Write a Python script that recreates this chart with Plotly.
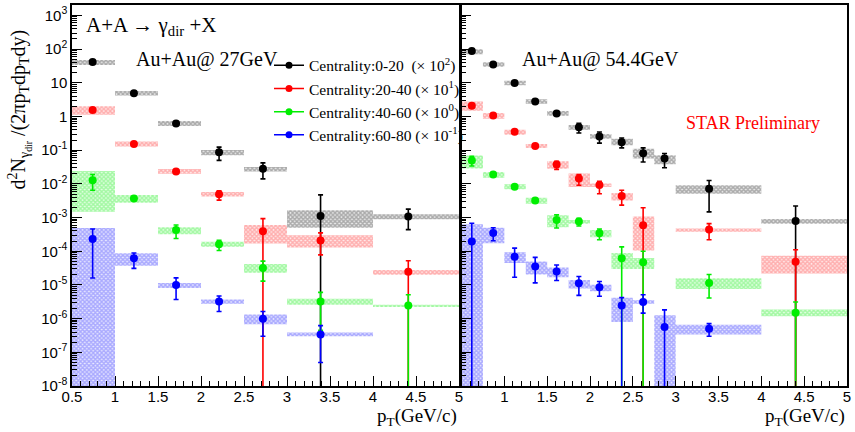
import plotly.graph_objects as go

# ---------------- data ----------------
FLOOR = 1e-10   # used for error bars / boxes that run off the bottom of the axis (None below)

# Au+Au 27 GeV  (left panel)
pt27 = [0.74, 1.22, 1.71, 2.21, 2.72, 3.39, 4.41]
lo27 = [0.5, 1.0, 1.5, 2.0, 2.5, 3.0, 4.0]
hi27 = [1.0, 1.5, 2.0, 2.5, 3.0, 4.0, 5.0]

c0020_27_val = [41.5, 4.9, 0.625, 0.087, 0.0279, 1.12e-3, 1.07e-3]
c0020_27_eup = [44.7, 5.25, 0.676, 0.123, 0.042, 4.7e-3, 1.78e-3]
c0020_27_edn = [38.0, 4.57, 0.575, 0.050, 0.0141, None, 4.4e-4]
c0020_27_sup = [47.9, 5.75, 0.74, 0.102, 0.0316, 1.66e-3, 1.26e-3]
c0020_27_sdn = [33.9, 4.17, 0.525, 0.0708, 0.0234, 5.0e-4, 8.9e-4]

c2040_27_val = [1.55, 0.153, 0.0234, 4.9e-3, 3.9e-4, 2.1e-4, 2.48e-5]
c2040_27_eup = [1.66, 0.166, 0.0251, 6.2e-3, 9.3e-4, 3.5e-4, 5.2e-5]
c2040_27_edn = [1.45, 0.141, 0.0219, 3.3e-3, None, 7.8e-5, None]
c2040_27_sup = [2.0, 0.18, 0.0275, 5.75e-3, 6.0e-4, 3.0e-4, 2.8e-5]
c2040_27_sdn = [1.12, 0.129, 0.020, 4.2e-3, 1.7e-4, 1.29e-4, 2.0e-5]

c4060_27_val = [0.0129, 3.7e-3, 4.3e-4, 1.62e-4, 3.2e-5, 3.2e-6, 2.45e-6]
c4060_27_eup = [0.019, 4.0e-3, 6.0e-4, 2.1e-4, 5.1e-5, 6.0e-6, 5.1e-6]
c4060_27_edn = [6.5e-3, 3.45e-3, 2.4e-4, 1.05e-4, 1.3e-5, 4.5e-7, None]
c4060_27_sup = [0.024, 4.7e-3, 5.2e-4, 1.9e-4, 4.2e-5, 3.9e-6, 2.6e-6]
c4060_27_sdn = [1.48e-3, 2.75e-3, 3.2e-4, 1.35e-4, 2.3e-5, 2.6e-6, 2.2e-6]

c6080_27_val = [2.3e-4, 6.2e-5, 1.0e-5, 3.2e-6, 1.0e-6, 3.4e-7, None]
c6080_27_eup = [4.6e-4, 8.9e-5, 1.62e-5, 4.7e-6, 1.62e-6, 6.2e-7, None]
c6080_27_edn = [1.6e-5, 3.1e-5, 3.7e-6, 1.62e-6, 3.0e-7, 5.0e-8, None]
c6080_27_sup = [4.9e-4, 8.7e-5, 1.15e-5, 3.7e-6, 1.32e-6, 3.9e-7, None]
c6080_27_sdn = [None, 3.7e-5, 8.1e-6, 2.75e-6, 6.8e-7, 3.0e-7, None]

# Au+Au 54.4 GeV  (right panel)
pt54 = [0.62, 0.87, 1.12, 1.36, 1.61, 1.87, 2.11, 2.37, 2.62, 2.87, 3.39, 4.40]
lo54 = [0.5, 0.75, 1.0, 1.25, 1.5, 1.75, 2.0, 2.25, 2.5, 2.75, 3.0, 4.0]
hi54 = [0.75, 1.0, 1.25, 1.5, 1.75, 2.0, 2.25, 2.5, 2.75, 3.0, 4.0, 5.0]

c0020_54_val = [87.7, 35.2, 9.93, 2.79, 1.23, 0.479, 0.257, 0.172, 0.0813, 0.0562, 7.2e-3, 7.9e-4]
c0020_54_eup = [93.0, 38.0, 10.7, 3.02, 1.32, 0.631, 0.347, 0.229, 0.117, 0.0794, 0.0126, 2.2e-3]
c0020_54_edn = [81.0, 32.4, 9.1, 2.57, 1.15, 0.324, 0.162, 0.117, 0.0447, 0.0302, 1.48e-3, None]
c0020_54_sup = [100.0, 40.7, 11.5, 3.24, 1.45, 0.562, 0.302, 0.219, 0.110, 0.0708, 9.1e-3, 9.1e-4]
c0020_54_sdn = [70.8, 30.2, 8.5, 2.4, 1.05, 0.407, 0.219, 0.141, 0.0562, 0.038, 5.1e-3, 6.6e-4]

c2040_54_val = [2.09, 1.08, 0.355, 0.133, 0.0376, 0.0145, 9.2e-3, 4.4e-3, 5.9e-4, None, 4.4e-4, 4.9e-5]
c2040_54_eup = [2.24, 1.15, 0.38, 0.141, 0.0468, 0.019, 0.012, 6.5e-3, 1.95e-3, None, 6.6e-4, 1.11e-4]
c2040_54_edn = [1.95, 1.0, 0.331, 0.126, 0.0269, 9.1e-3, 5.1e-3, 2.34e-3, None, None, 2.2e-4, None]
c2040_54_sup = [2.79, 1.26, 0.407, 0.153, 0.0468, 0.0204, 0.0102, 5.4e-3, 1.07e-3, None, 4.7e-4, 7.4e-5]
c2040_54_sdn = [1.48, 0.861, 0.288, 0.117, 0.0282, 8.1e-3, 8.1e-3, 3.2e-3, 1.05e-4, None, 3.8e-4, 2.2e-5]

c4060_54_val = [0.0494, 0.019, 8.2e-3, 3.2e-3, 8.5e-4, 7.6e-4, 3.4e-4, 6.2e-5, 4.7e-5, None, 1.15e-5, 1.5e-6]
c4060_54_eup = [0.066, 0.0204, 8.7e-3, 3.5e-3, 1.2e-3, 9.5e-4, 4.6e-4, 1.35e-4, 1.0e-4, None, 2.04e-5, 3.1e-6]
c4060_54_edn = [0.0339, 0.0178, 7.8e-3, 3.0e-3, 4.9e-4, 5.6e-4, 2.2e-4, None, None, None, 4.1e-6, None]
c4060_54_sup = [0.069, 0.0224, 9.8e-3, 3.9e-3, 1.17e-3, 8.5e-4, 4.3e-4, 8.9e-5, 6.3e-5, None, 1.58e-5, 1.86e-6]
c4060_54_sdn = [0.0288, 0.0151, 6.9e-3, 2.57e-3, 5.2e-4, 6.6e-4, 2.6e-4, 2.95e-5, 2.95e-5, None, 7.6e-6, 1.17e-6]

c6080_54_val = [1.95e-4, 3.5e-4, 6.9e-5, 3.5e-5, 2.5e-5, 1.12e-5, 8.5e-6, 2.45e-6, 3.1e-6, 5.6e-7, 5.0e-7, None]
c6080_54_eup = [6.8e-4, 5.0e-4, 1.24e-4, 6.6e-5, 3.9e-5, 1.78e-5, 1.26e-5, 4.2e-6, 5.1e-6, 1.82e-6, 7.1e-7, None]
c6080_54_edn = [None, 2.04e-4, 1.7e-5, 1.15e-5, 1.35e-5, 4.9e-6, 4.6e-6, None, 1.46e-6, None, 3.0e-7, None]
c6080_54_sup = [6.3e-4, 5.0e-4, 9.3e-5, 5.0e-5, 3.3e-5, 1.41e-5, 1.02e-5, 4.2e-6, 3.5e-6, 1.26e-6, 6.6e-7, None]
c6080_54_sdn = [None, 1.74e-4, 4.5e-5, 2.04e-5, 1.7e-5, 7.9e-6, 6.5e-6, 7.9e-7, 2.75e-6, None, 3.4e-7, None]

legend_names = ["Centrality:0-20\u00a0\u00a0(\u00d7 10<sup>2</sup>)",
                "Centrality:20-40 (\u00d7 10<sup>1</sup>)",
                "Centrality:40-60 (\u00d7 10<sup>0</sup>)",
                "Centrality:60-80 (\u00d7 10<sup>-1</sup>)"]

ytick_vals = [1e-8, 1e-7, 1e-6, 1e-5, 1e-4, 1e-3, 1e-2, 1e-1, 1, 10, 100, 1000]
ytick_text = ["10<sup>-8</sup>", "10<sup>-7</sup>", "10<sup>-6</sup>", "10<sup>-5</sup>",
              "10<sup>-4</sup>", "10<sup>-3</sup>", "10<sup>-2</sup>", "10<sup>-1</sup>",
              "1", "10", "10<sup>2</sup>", "10<sup>3</sup>"]
xtick_vals = [0.5, 1, 1.5, 2, 2.5, 3, 3.5, 4, 4.5, 5]
xtick_text_left = ["0.5", "1", "1.5", "2", "2.5", "3", "3.5", "4", "4.5", "5"]
xtick_text_right = ["", "1", "1.5", "2", "2.5", "3", "3.5", "4", "4.5", "5"]

# ---------------- styles ----------------
SERIF = "Liberation Serif, Times New Roman, serif"
SANS = "Liberation Sans, Arial, sans-serif"
COLORS = ["#000000", "#ff0000", "#00ee00", "#0000ff"]
BOX_FG = ["rgba(100,100,100,0.95)", "rgba(255,110,110,0.95)", "rgba(90,240,90,0.95)", "rgba(100,100,255,0.95)"]
BOX_BG = ["rgba(215,215,215,0.55)", "rgba(255,215,215,0.55)", "rgba(205,255,205,0.55)", "rgba(210,210,255,0.55)"]

panels = [
    dict(xa="x", ya="y", pt=pt27, lo=lo27, hi=hi27, series=[
        (c0020_27_val, c0020_27_eup, c0020_27_edn, c0020_27_sup, c0020_27_sdn),
        (c2040_27_val, c2040_27_eup, c2040_27_edn, c2040_27_sup, c2040_27_sdn),
        (c4060_27_val, c4060_27_eup, c4060_27_edn, c4060_27_sup, c4060_27_sdn),
        (c6080_27_val, c6080_27_eup, c6080_27_edn, c6080_27_sup, c6080_27_sdn)]),
    dict(xa="x2", ya="y2", pt=pt54, lo=lo54, hi=hi54, series=[
        (c0020_54_val, c0020_54_eup, c0020_54_edn, c0020_54_sup, c0020_54_sdn),
        (c2040_54_val, c2040_54_eup, c2040_54_edn, c2040_54_sup, c2040_54_sdn),
        (c4060_54_val, c4060_54_eup, c4060_54_edn, c4060_54_sup, c4060_54_sdn),
        (c6080_54_val, c6080_54_eup, c6080_54_edn, c6080_54_sup, c6080_54_sdn)]),
]

fig = go.Figure()

for p in panels:
    # systematic boxes first
    for i, (val, eup, edn, sup, sdn) in enumerate(p["series"]):
        bx, by = [], []
        for a, b, v, s1, s0 in zip(p["lo"], p["hi"], val, sup, sdn):
            if v is None:
                continue
            s0 = FLOOR if s0 is None else s0
            bx += [a, b, b, a, a, None]
            by += [s0, s0, s1, s1, s0, None]
        fig.add_trace(go.Scatter(
            x=bx, y=by, xaxis=p["xa"], yaxis=p["ya"], mode="none", fill="toself",
            fillcolor=BOX_BG[i],
            fillpattern=dict(shape="x", size=3, solidity=0.7, fgcolor=BOX_FG[i], bgcolor=BOX_BG[i]),
            showlegend=False, hoverinfo="skip"))
    # points with statistical error bars
    for i, (val, eup, edn, sup, sdn) in enumerate(p["series"]):
        xs, ys, ep, em = [], [], [], []
        for x, v, u, d in zip(p["pt"], val, eup, edn):
            if v is None:
                continue
            d = FLOOR if d is None else d
            xs.append(x); ys.append(v); ep.append(u - v); em.append(v - d)
        fig.add_trace(go.Scatter(
            x=xs, y=ys, xaxis=p["xa"], yaxis=p["ya"], mode="markers",
            marker=dict(color=COLORS[i], size=8),
            error_y=dict(type="data", array=ep, arrayminus=em, color=COLORS[i],
                         thickness=1.6, width=2.5),
            showlegend=False, hoverinfo="skip"))

# legend entries
for i, name in enumerate(legend_names):
    fig.add_trace(go.Scatter(x=[None], y=[None], mode="lines+markers", name=name,
                             line=dict(color=COLORS[i], width=1.5),
                             marker=dict(color=COLORS[i], size=7)))

axis_common = dict(showline=True, linecolor="black", linewidth=1.5, mirror=True,
                   ticks="inside", tickcolor="black", ticklen=10, tickwidth=1,
                   showgrid=False, zeroline=False)
xminor = dict(ticks="inside", ticklen=5, tickcolor="black", tickwidth=1,
              tickmode="linear", tick0=0.5, dtick=0.1, showgrid=False)
yminor = dict(ticks="inside", ticklen=5, tickcolor="black", tickwidth=1, tickmode="array",
              tickvals=[m * 10.0 ** e for e in range(-8, 4) for m in range(2, 10)], showgrid=False)

fig.update_layout(
    width=855, height=432,
    margin=dict(l=72, r=8, t=3, b=46),
    paper_bgcolor="white", plot_bgcolor="white",
    font=dict(family=SANS, size=15, color="black"),
    xaxis=dict(domain=[0, 0.4994], range=[0.5, 5], tickmode="array", tickvals=xtick_vals,
               ticktext=xtick_text_left, minor=xminor, ticklabelstandoff=-4, **axis_common),
    xaxis2=dict(domain=[0.5026, 1], range=[0.5, 5], tickmode="array", tickvals=xtick_vals,
                ticktext=xtick_text_right, minor=xminor, anchor="y2", ticklabelstandoff=-4,
                **axis_common),
    yaxis=dict(type="log", range=[-8, 3.31], tickmode="array", tickvals=ytick_vals,
               ticktext=ytick_text, minor=yminor, **axis_common),
    yaxis2=dict(type="log", range=[-8, 3.31], tickmode="array", tickvals=ytick_vals,
                showticklabels=False, minor=yminor, anchor="x2", matches="y", **axis_common),
    legend=dict(x=(197 - 0) / 775.0, y=(386 - 47) / 383, xanchor="left", yanchor="top",
                bgcolor="rgba(0,0,0,0)", font=dict(family=SERIF, size=15.5, color="black"),
                tracegroupgap=0, itemwidth=30),
    showlegend=True,
)

def px_x(px):
    return (px - 72) / 775.0

def px_y(py):
    return (386 - py) / 383.0

annos = [
    dict(text="A+A \u2192 \u03b3<sub>dir</sub> +X", x=px_x(84), y=px_y(24), xanchor="left",
         yanchor="middle", font=dict(family=SERIF, size=21)),
    dict(text="Au+Au@ 27GeV", x=px_x(134), y=px_y(58), xanchor="left", yanchor="middle",
         font=dict(family=SERIF, size=20)),
    dict(text="Au+Au@ 54.4GeV", x=px_x(520), y=px_y(58), xanchor="left", yanchor="middle",
         font=dict(family=SERIF, size=20)),
    dict(text="STAR Preliminary", x=px_x(684), y=px_y(122), xanchor="left", yanchor="middle",
         font=dict(family=SERIF, size=18, color="red")),
    dict(text="p<sub>T</sub>(GeV/c)", x=px_x(459), y=px_y(417), xanchor="right",
         yanchor="middle", font=dict(family=SERIF, size=19)),
    dict(text="p<sub>T</sub>(GeV/c)", x=1.0, y=px_y(417), xanchor="right",
         yanchor="middle", font=dict(family=SERIF, size=19)),
    dict(text="d<sup>2</sup>N<sub>\u03b3<sub>dir</sub></sub> /(2\u03c0p<sub>T</sub>dp<sub>T</sub>dy)",
         x=px_x(20), y=px_y(108), xanchor="center", yanchor="middle", textangle=-90,
         font=dict(family=SERIF, size=20)),
]
for a in annos:
    a.update(xref="paper", yref="paper", showarrow=False)
fig.update_layout(annotations=annos)

fig.write_html("out.html", config={"displayModeBar": False},
               post_script="document.body.style.margin='0px';")
